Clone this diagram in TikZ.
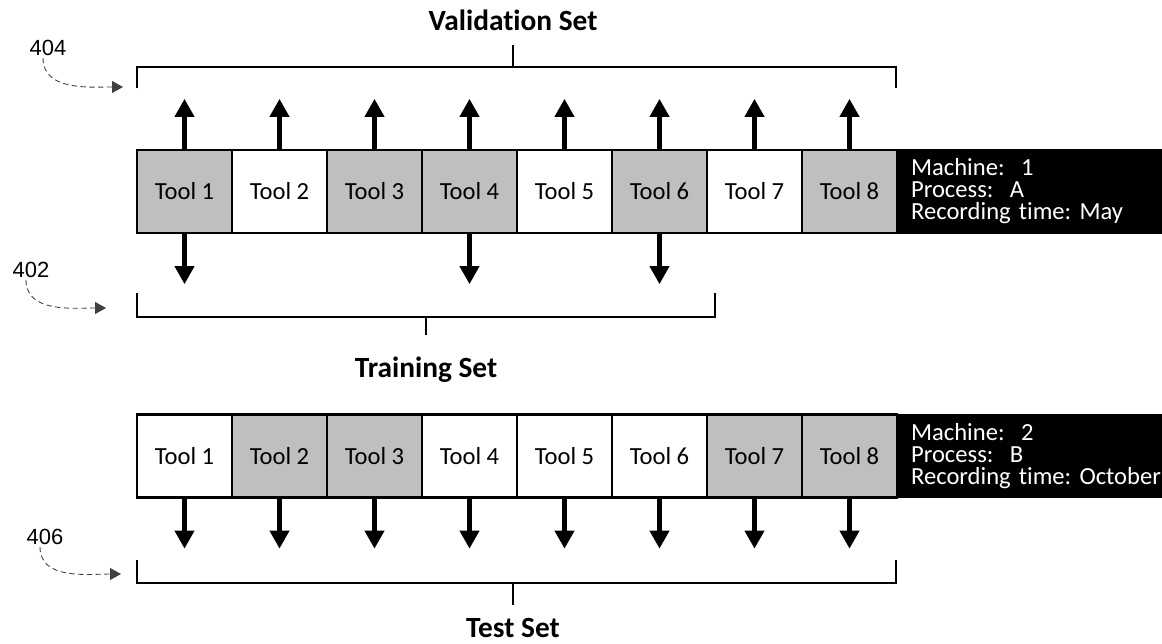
\documentclass[tikz,border=0pt]{standalone}
\usepackage{fontspec}
\setmainfont[Ligatures=NoCommon]{Carlito}
\setsansfont{Liberation Sans}
\usetikzlibrary{arrows.meta}
\frenchspacing

\tikzset{
  tool/.style={draw, line width=1.3pt, minimum width=1.9cm, minimum height=1.66cm, inner sep=0pt, font=\fontsize{14}{16}\selectfont},
  toolgray/.style={tool, fill=black!25},
  info/.style={draw, fill=black, text=white, line width=1.1pt, anchor=west, align=left, text width=5.1cm, inner xsep=0.24cm, minimum height=1.66cm, font=\fontsize{14}{12.5}\selectfont},
  arr/.style={line width=2.3pt, -{Triangle[width=0.38cm,length=0.36cm]}},
  bracket/.style={line width=0.9pt},
  settitle/.style={font=\bfseries\fontsize{16.7}{18}\selectfont},
  refnum/.style={font=\sffamily\fontsize{12.5}{14}\selectfont, inner sep=1pt},
  pointer/.style={densely dashed, line width=0.5pt, black!75, -{Triangle[width=0.24cm,length=0.22cm]}}
}

\begin{document}
\begin{tikzpicture}[x=0.02cm,y=-0.02cm]
\useasboundingbox (0,0) rectangle (1162,643);
% First recording:
\node[toolgray] (a1) at (184.5,191.5) {Tool 1};
\node[tool]     (a2) at (279.5,191.5) {Tool 2};
\node[toolgray] (a3) at (374.5,191.5) {Tool 3};
\node[toolgray] (a4) at (469.5,191.5) {Tool 4};
\node[tool]     (a5) at (564.5,191.5) {Tool 5};
\node[toolgray] (a6) at (659.5,191.5) {Tool 6};
\node[tool]     (a7) at (754.5,191.5) {Tool 7};
\node[toolgray] (a8) at (849.5,191.5) {Tool 8};
\node[info] (ma) at (a8.east) {Machine:~~1\\Process:~~A\\Recording time: May};
% Second recording:
\node[tool]     (b1) at (184.5,456) {Tool 1};
\node[toolgray] (b2) at (279.5,456) {Tool 2};
\node[toolgray] (b3) at (374.5,456) {Tool 3};
\node[tool]     (b4) at (469.5,456) {Tool 4};
\node[tool]     (b5) at (564.5,456) {Tool 5};
\node[tool]     (b6) at (659.5,456) {Tool 6};
\node[toolgray] (b7) at (754.5,456) {Tool 7};
\node[toolgray] (b8) at (849.5,456) {Tool 8};
\node[info] (mb) at (b8.east) {Machine:~~2\\Process:~~B\\Recording time: October};
% Arrows:
\draw[arr] (a1.north) -- ++(0,-50);
\draw[arr] (a2.north) -- ++(0,-50);
\draw[arr] (a3.north) -- ++(0,-50);
\draw[arr] (a4.north) -- ++(0,-50);
\draw[arr] (a5.north) -- ++(0,-50);
\draw[arr] (a6.north) -- ++(0,-50);
\draw[arr] (a7.north) -- ++(0,-50);
\draw[arr] (a8.north) -- ++(0,-50);
\draw[arr] (a1.south) -- ++(0,50);
\draw[arr] (a4.south) -- ++(0,50);
\draw[arr] (a6.south) -- ++(0,50);
\draw[arr] (b1.south) -- ++(0,50);
\draw[arr] (b2.south) -- ++(0,50);
\draw[arr] (b3.south) -- ++(0,50);
\draw[arr] (b4.south) -- ++(0,50);
\draw[arr] (b5.south) -- ++(0,50);
\draw[arr] (b6.south) -- ++(0,50);
\draw[arr] (b7.south) -- ++(0,50);
\draw[arr] (b8.south) -- ++(0,50);
% Brackets:
\draw[bracket] (137,88) -- (137,67) -- (896,67) -- (896,88);
\draw[bracket] (513,67) -- (513,45);
\draw[bracket] (137,293) -- (137,317) -- (715,317) -- (715,293);
\draw[bracket] (426,317) -- (426,335);
\draw[bracket] (137,560) -- (137,583) -- (896,583) -- (896,560);
\draw[bracket] (513,583) -- (513,605);
\node[settitle] (valid) at (513,20) {Validation Set};
\node[settitle] (train) at (426,370) {Training Set};
\node[settitle] (test) at (513,628) {Test Set};
% Reference numbers:
\node[refnum] (n404) at (48,48) {404};
\node[refnum] (n402) at (31,270) {402};
\node[refnum] (n406) at (45,537) {406};
\coordinate (e404) at (123,87);
\coordinate (e402) at (106,308);
\coordinate (e406) at (121,574);
\draw[pointer] ([xshift=-0.1cm]n404.south) to[out=-90,in=180] (e404);
\draw[pointer] ([xshift=-0.1cm]n402.south) to[out=-90,in=180] (e402);
\draw[pointer] ([xshift=-0.1cm]n406.south) to[out=-90,in=180] (e406);
\end{tikzpicture}
\end{document}
